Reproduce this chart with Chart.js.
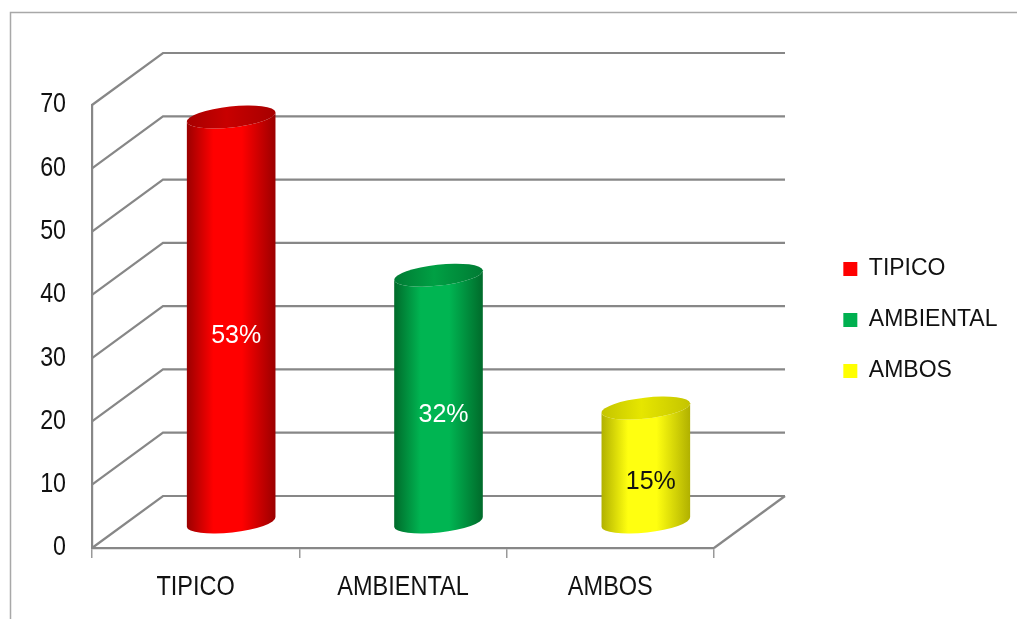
<!DOCTYPE html>
<html>
<head>
<meta charset="utf-8">
<script src="https://cdn.jsdelivr.net/npm/chart.js@4.4.1/dist/chart.umd.min.js"></script>
<style>
  html, body { margin: 0; padding: 0; background: #ffffff; }
  #wrap { position: relative; width: 1017px; height: 619px; }
</style>
</head>
<body>
<div id="wrap"><canvas id="c"></canvas></div>
<script>
// Data
const categories = ['TIPICO', 'AMBIENTAL', 'AMBOS'];
const counts = [64, 39, 18];
const yTicks = [0, 10, 20, 30, 40, 50, 60, 70];

// Styling
const legendColors = ['#ff0000', '#00b050', '#ffff00'];
const shades = [
  { edge: '#9a0000', mid: '#ff0000', top: '#c80000', topEdge: '#a60000', text: '#ffffff' },
  { edge: '#006a2a', mid: '#00b552', top: '#00a044', topEdge: '#007a33', text: '#ffffff' },
  { edge: '#b0b000', mid: '#ffff10', top: '#e6e600', topEdge: '#c4c400', text: '#111111' }
];
const DEPTH_X = 71;      // receding offset of the back wall
const DEPTH_Y = -52;
const PLOT_RIGHT = 714;  // right edge of the front floor
const PAD = { top: 21, right: 5, bottom: 0, left: 0 };
const TICK_FONT = '"Liberation Sans", Arial, sans-serif';
const CAT_FONT_SIZE = 28;
const CAT_SQUEEZE = 0.84;  // axis labels use a condensed face
const VAL_FONT_SIZE = 27;
const VAL_SQUEEZE = 0.86;
const VAL_PAD = 26;
const GRID_COLOR = '#878787';

function ellipsePoint(cx, cy, rx, ry, rot, th) {
  return [
    cx + rx * Math.cos(th) * Math.cos(rot) - ry * Math.sin(th) * Math.sin(rot),
    cy + rx * Math.cos(th) * Math.sin(rot) + ry * Math.sin(th) * Math.cos(rot)
  ];
}

function drawCylinder(c, cx, topY, baseY, rx, ry, rot, sh) {
  const body = c.createLinearGradient(cx - rx, 0, cx + rx, 0);
  body.addColorStop(0, sh.edge);
  body.addColorStop(0.3, sh.mid);
  body.addColorStop(0.62, sh.mid);
  body.addColorStop(1, sh.edge);
  c.beginPath();
  let p = ellipsePoint(cx, topY, rx, ry, rot, Math.PI);
  c.moveTo(p[0], p[1]);
  p = ellipsePoint(cx, baseY, rx, ry, rot, Math.PI);
  c.lineTo(p[0], p[1]);
  c.ellipse(cx, baseY, rx, ry, rot, Math.PI, 0, true);
  c.ellipse(cx, topY, rx, ry, rot, 0, Math.PI, false);
  c.closePath();
  c.fillStyle = body;
  c.fill();

  const cap = c.createLinearGradient(cx - rx, 0, cx + rx, 0);
  cap.addColorStop(0, sh.topEdge);
  cap.addColorStop(0.45, sh.top);
  cap.addColorStop(1, sh.topEdge);
  c.beginPath();
  c.ellipse(cx, topY, rx, ry, rot, 0, Math.PI * 2);
  c.fillStyle = cap;
  c.fill();
}

const box3d = {
  id: 'box3d',
  afterInit(chart) {
    // leave room for the legend's leading padding so long labels are not cut
    const lg = chart.legend;
    if (lg && !lg._padFit) {
      const fit = lg.fit.bind(lg);
      lg.fit = function () {
        fit();
        this.width += this.options.labels.padding;
      };
      lg._padFit = true;
    }
  },
  beforeDraw(chart) {
    const c = chart.ctx;
    c.save();
    c.fillStyle = '#ffffff';
    c.fillRect(0, 0, chart.width, chart.height);
    c.strokeStyle = '#a8a8a8';
    c.lineWidth = 1.5;
    c.strokeRect(10.5, 12.5, chart.width + 40, chart.height + 40);
    c.restore();
  },
  beforeDatasetsDraw(chart) {
    const c = chart.ctx;
    const ys = chart.scales.y;
    const a = chart.chartArea;
    c.save();
    c.strokeStyle = GRID_COLOR;
    c.lineWidth = 2.2;
    ys.ticks.forEach(t => {
      const py = ys.getPixelForValue(t.value);
      c.beginPath();
      c.moveTo(a.left, py);
      c.lineTo(a.left + DEPTH_X, py + DEPTH_Y);
      c.lineTo(a.right + DEPTH_X, py + DEPTH_Y);
      c.stroke();
    });
    const p0 = ys.getPixelForValue(0);
    c.beginPath();
    c.moveTo(a.right, p0);
    c.lineTo(a.right + DEPTH_X, p0 + DEPTH_Y);
    c.stroke();

    // cylinders from the bar elements
    const meta = chart.getDatasetMeta(0);
    const values = chart.data.datasets[0].data;
    const total = values.reduce((s, v) => s + v, 0);
    meta.data.forEach((bar, i) => {
      const { x, y, base, width } = bar.getProps(['x', 'y', 'base', 'width'], true);
      const cx = x + DEPTH_X / 2;
      const topY = y + DEPTH_Y / 2;
      const baseY = base + DEPTH_Y / 2;
      drawCylinder(c, cx, topY, baseY, width / 2, 10.5, -0.11, shades[i]);
      const pct = Math.round(values[i] / total * 100) + '%';
      c.font = '25px ' + TICK_FONT;
      c.textAlign = 'center';
      c.textBaseline = 'middle';
      c.fillStyle = shades[i].text;
      c.fillText(pct, cx + 5, (topY + baseY) / 2 + 17);
    });
    c.restore();
    return false;
  },
  afterDraw(chart) {
    const c = chart.ctx;
    c.save();
    c.fillStyle = '#111111';
    c.textBaseline = 'middle';

    // category labels, condensed horizontally
    const xs = chart.scales.x;
    const labels = xs.getLabels();
    c.font = CAT_FONT_SIZE + 'px ' + TICK_FONT;
    c.textAlign = 'center';
    xs.ticks.forEach((t, i) => {
      c.save();
      c.translate(xs.getPixelForTick(i), xs.top + 39);
      c.scale(CAT_SQUEEZE, 1);
      c.fillText(labels[t.value], 0, 0);
      c.restore();
    });

    // value axis labels
    const ys = chart.scales.y;
    c.font = VAL_FONT_SIZE + 'px ' + TICK_FONT;
    c.textAlign = 'right';
    ys.ticks.forEach(t => {
      c.save();
      c.translate(ys.right - VAL_PAD, ys.getPixelForValue(t.value));
      c.scale(VAL_SQUEEZE, 1);
      c.fillText(String(t.value), 0, 0);
      c.restore();
    });
    c.restore();
  }
};

new Chart(document.getElementById('c'), {
  type: 'bar',
  data: {
    labels: categories,
    datasets: [{
      label: 'Casos',
      data: counts,
      backgroundColor: legendColors,
      barPercentage: 0.43,
      categoryPercentage: 1
    }]
  },
  options: {
    responsive: true,
    maintainAspectRatio: false,
    animation: false,
    devicePixelRatio: 1,
    layout: { padding: PAD },
    plugins: {
      tooltip: { enabled: false },
      legend: {
        position: 'right',
        labels: {
          boxWidth: 14,
          boxHeight: 14,
          padding: 28,
          color: '#111111',
          font: { family: TICK_FONT, size: 23 },
          generateLabels: () => categories.map((name, i) => ({
            text: name,
            fillStyle: legendColors[i],
            strokeStyle: legendColors[i],
            lineWidth: 0,
            hidden: false,
            index: i,
            datasetIndex: 0,
            fontColor: '#111111'
          }))
        }
      }
    },
    scales: {
      x: {
        position: 'bottom',
        offset: true,
        grid: {
          display: true,
          offset: true,
          drawOnChartArea: false,
          drawTicks: true,
          tickLength: 10,
          color: '#999999',
          lineWidth: 1.5
        },
        border: { display: true, color: GRID_COLOR, width: 2.2 },
        ticks: {
          color: 'rgba(0,0,0,0)',
          padding: 11,
          font: { family: TICK_FONT, size: CAT_FONT_SIZE }
        },
        afterFit: s => { s.height = 619 - 548 - PAD.bottom; }
      },
      y: {
        position: 'left',
        min: 0,
        max: 70,
        afterBuildTicks: s => { s.ticks = yTicks.map(v => ({ value: v })); },
        grid: { display: false, drawTicks: false },
        border: { display: true, color: GRID_COLOR, width: 2.2 },
        ticks: {
          color: 'rgba(0,0,0,0)',
          padding: VAL_PAD,
          font: { family: TICK_FONT, size: VAL_FONT_SIZE }
        },
        afterFit: s => { s.width = 92 - PAD.left; }
      },
      topSpace: {
        type: 'linear',
        position: 'top',
        display: true,
        grid: { display: false },
        border: { display: false },
        ticks: { display: false },
        afterFit: s => { s.height = 105 - PAD.top; }
      },
      rightSpace: {
        type: 'linear',
        position: 'right',
        display: true,
        grid: { display: false },
        border: { display: false },
        ticks: { display: false },
        afterFit: s => {
          const lg = s.chart.legend;
          s.width = s.chart.width - PAD.right - (lg ? lg.width : 0) - PLOT_RIGHT;
        }
      }
    }
  },
  plugins: [box3d]
});
</script>
</body>
</html>
